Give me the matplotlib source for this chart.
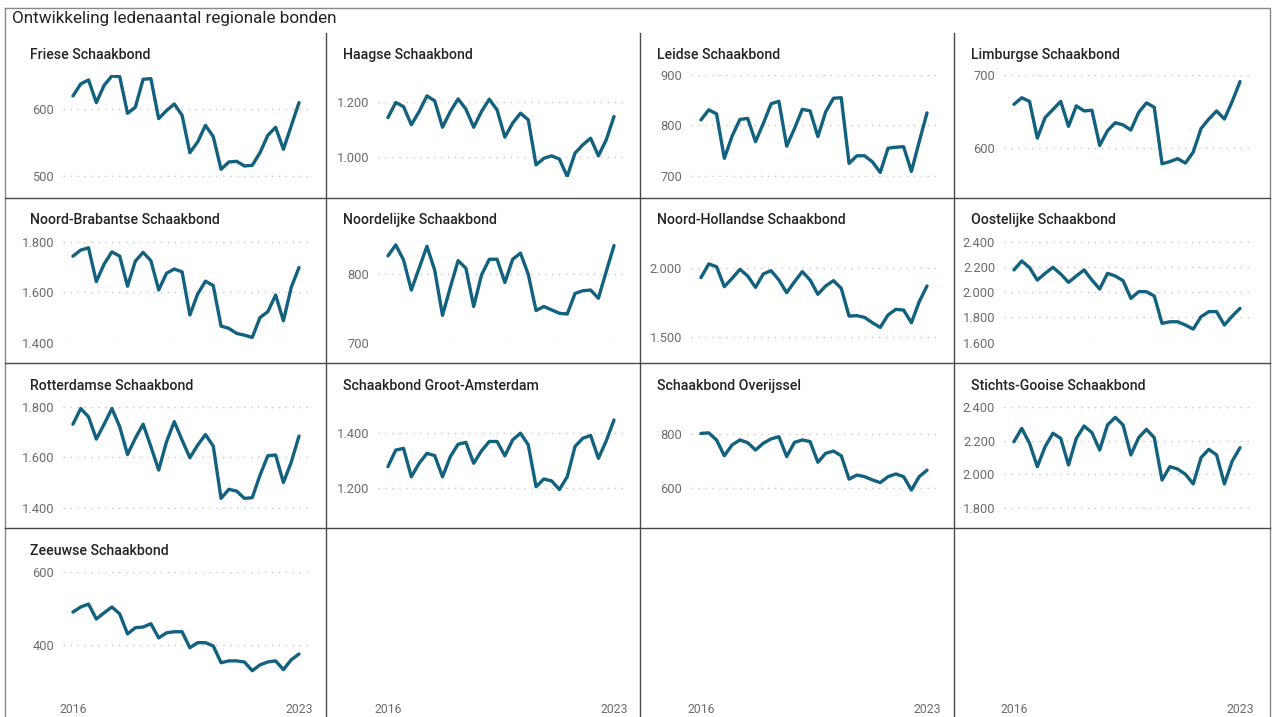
import matplotlib
matplotlib.use("Agg")
import matplotlib.pyplot as plt

W, H, DPI = 1274, 717, 100

# ---------------- data ----------------
chart_title = "Ontwikkeling ledenaantal regionale bonden"
panel_titles = [
    "Friese Schaakbond", "Haagse Schaakbond", "Leidse Schaakbond", "Limburgse Schaakbond",
    "Noord-Brabantse Schaakbond", "Noordelijke Schaakbond", "Noord-Hollandse Schaakbond", "Oostelijke Schaakbond",
    "Rotterdamse Schaakbond", "Schaakbond Groot-Amsterdam", "Schaakbond Overijssel", "Stichts-Gooise Schaakbond",
    "Zeeuwse Schaakbond",
]
x_tick_labels = ["2016", "2023"]

friese = [620, 638, 644, 610, 636, 650, 649, 594, 603, 645, 646, 586, 598, 608, 591,
          535, 551, 576, 559, 510, 521, 522, 515, 516, 535, 561, 573, 540, 575, 610]
haagse = [1144, 1199, 1184, 1118, 1166, 1223, 1205, 1109, 1166, 1212, 1175, 1109, 1166, 1211, 1172,
          1073, 1124, 1160, 1136, 972, 996, 1005, 993, 930, 1015, 1045, 1069, 1005, 1063, 1148]
leidse = [811, 831, 823, 735, 779, 812, 814, 768, 804, 843, 848, 759, 794, 832, 829,
          778, 827, 854, 855, 725, 740, 740, 728, 707, 755, 757, 758, 709, 768, 825]
limburgse = [660, 669, 664, 614, 642, 653, 664, 630, 658, 651, 652, 604, 624, 635, 632,
             625, 649, 662, 656, 579, 582, 586, 580, 595, 627, 640, 651, 640, 664, 691]
noord_brabantse = [1743, 1767, 1776, 1642, 1712, 1760, 1743, 1624, 1723, 1758, 1725, 1609, 1675, 1692, 1681,
                   1510, 1593, 1644, 1626, 1466, 1457, 1437, 1430, 1421, 1500, 1523, 1589, 1487, 1619, 1698]
noordelijke = [827, 843, 821, 777, 809, 841, 806, 740, 781, 820, 809, 753, 799, 822, 822,
               788, 822, 831, 800, 747, 753, 748, 743, 742, 772, 776, 777, 765, 804, 842]
noord_hollandse = [1932, 2032, 2012, 1866, 1927, 1993, 1944, 1861, 1959, 1983, 1915, 1822, 1902, 1976, 1915,
                   1810, 1871, 1910, 1854, 1651, 1654, 1641, 1602, 1568, 1659, 1700, 1695, 1602, 1756, 1871]
oostelijke = [2176, 2247, 2194, 2096, 2149, 2197, 2144, 2078, 2128, 2176, 2096, 2025, 2149, 2128, 2091,
              1951, 2004, 2004, 1970, 1753, 1766, 1766, 1740, 1708, 1806, 1846, 1846, 1740, 1811, 1872]
rotterdamse = [1731, 1793, 1760, 1672, 1731, 1793, 1721, 1611, 1675, 1731, 1642, 1549, 1661, 1741, 1668,
               1598, 1648, 1690, 1644, 1437, 1473, 1466, 1437, 1440, 1529, 1606, 1609, 1500, 1580, 1684]
groot_amsterdam = [1279, 1339, 1345, 1242, 1291, 1327, 1319, 1242, 1315, 1360, 1367, 1291, 1336, 1370, 1370,
                   1318, 1376, 1400, 1358, 1206, 1234, 1227, 1196, 1242, 1352, 1382, 1392, 1309, 1372, 1448]
overijssel = [802, 804, 778, 720, 760, 778, 768, 741, 766, 782, 790, 717, 769, 778, 772,
              696, 729, 737, 720, 634, 649, 643, 631, 621, 643, 653, 643, 594, 643, 667]
stichts_gooise = [2193, 2272, 2184, 2046, 2164, 2243, 2213, 2056, 2213, 2286, 2247, 2144, 2292, 2337, 2292,
                  2115, 2217, 2266, 2217, 1967, 2046, 2032, 2001, 1944, 2099, 2148, 2115, 1944, 2079, 2158]
zeeuwse = [490, 504, 512, 471, 488, 504, 485, 430, 447, 449, 458, 419, 433, 436, 436,
           392, 406, 406, 397, 351, 356, 356, 353, 329, 345, 353, 356, 332, 359, 375]

series = [friese, haagse, leidse, limburgse, noord_brabantse, noordelijke, noord_hollandse,
          oostelijke, rotterdamse, groot_amsterdam, overijssel, stichts_gooise, zeeuwse]

y_ticks = [[500, 600], [1000, 1200], [700, 800, 900], [600, 700],
           [1400, 1600, 1800], [700, 800], [1500, 2000], [1600, 1800, 2000, 2200, 2400],
           [1400, 1600, 1800], [1200, 1400], [600, 800], [1800, 2000, 2200, 2400],
           [400, 600]]

# ---------------- layout / style ----------------
y_limits = [(498.5, 651.4), (928, 1299), (698, 900), (561, 700),
            (1399, 1803), (699.6, 848.7), (1454, 2200), (1598, 2405),
            (1397, 1801), (1127, 1497), (526, 901), (1799, 2401),
            (320, 600)]

FONT = ["Roboto", "DejaVu Sans"]
plt.rcParams["font.family"] = FONT
LINE_COLOR = "#12617f"
TEXT_COLOR = "#252423"
TICK_COLOR = "#6e6c6a"
GRID_COLOR = "#c8c6c4"
SEP_COLOR = "#4a4a4a"

col_axes_left = [62.5, 377.5, 690.5, 1003.5]
axes_width = 245
row_top = [75, 241, 406.5, 572]
axes_height = 102
col_title_x = [30, 343, 657, 971]
row_title_y = [55, 220, 386, 551]

fig = plt.figure(figsize=(W / DPI, H / DPI), dpi=DPI)
fig.patch.set_facecolor("white")

def fx(px):
    return px / W

def fy(py):
    return 1 - py / H

# decoration layer in pixel coordinates
deco = fig.add_axes([0, 0, 1, 1], zorder=-1)
deco.set_xlim(0, W)
deco.set_ylim(H, 0)
deco.axis("off")
# outer frame
deco.plot([5, 1270, 1270], [8, 8, H], color="#8a8886", lw=1)
deco.plot([5, 5], [8, H], color="#8a8886", lw=1)
# grid separators
for xs in [326, 640, 954]:
    deco.plot([xs, xs], [33, H], color=SEP_COLOR, lw=1)
for ys in [198, 363, 528]:
    deco.plot([5, 1270], [ys, ys], color=SEP_COLOR, lw=1)

fig.text(fx(12), fy(19), chart_title, fontsize=12.3, color=TEXT_COLOR,
         ha="left", va="center")

def fmt(v):
    return f"{v:,.0f}".replace(",", ".")

n = len(friese)
xs_idx = list(range(n))

for i in range(16):
    r, c = divmod(i, 4)
    ax = fig.add_axes([fx(col_axes_left[c]), fy(row_top[r] + axes_height),
                       fx(axes_width), axes_height / H])
    ax.set_xlim(-1.34, n - 1 + 1.09)
    for sp in ax.spines.values():
        sp.set_visible(False)
    ax.set_facecolor("none")
    ax.tick_params(length=0, labelsize=9.3, colors=TICK_COLOR)
    if i < len(series):
        ax.plot(xs_idx, series[i], color=LINE_COLOR, lw=2.4, solid_joinstyle="round",
                solid_capstyle="round")
        ax.set_ylim(*y_limits[i])
        ax.set_yticks(y_ticks[i])
        ax.set_yticklabels([fmt(t) for t in y_ticks[i]])
        ax.yaxis.grid(True, linestyle=(0, (1, 4)), color=GRID_COLOR, lw=1)
        ax.tick_params(axis="y", pad=6)
        fig.text(fx(col_title_x[c]), fy(row_title_y[r]), panel_titles[i], fontsize=10.2,
                 fontweight="medium", color=TEXT_COLOR, ha="left", va="center")
    else:
        ax.set_yticks([])
    if r == 3:
        ax.set_xticks([0, n - 1])
        ax.set_xticklabels(x_tick_labels)
        ax.tick_params(axis="x", pad=21, labelsize=8.8)
    else:
        ax.set_xticks([])

fig.savefig("out.png", dpi=DPI, facecolor="white")
